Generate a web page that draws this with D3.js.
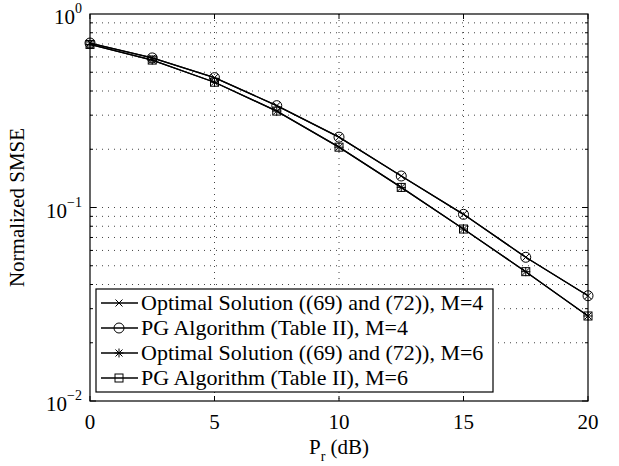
<!DOCTYPE html>
<html lang="en">
<head>
<meta charset="UTF-8">
<title>Normalized SMSE</title>
<script src="https://cdn.jsdelivr.net/npm/d3@7"></script>
<style>
    body { margin: 0; background: #fff; }
</style>
</head>
<body>
<div id="chart"></div>
<script>
// data
const prDb = [0, 2.5, 5, 7.5, 10, 12.5, 15, 17.5, 20];
const optimalM4 = [0.708, 0.593, 0.469, 0.336, 0.231, 0.1455, 0.0922, 0.0553, 0.0350];
const pgM4      = [0.708, 0.593, 0.469, 0.336, 0.231, 0.1455, 0.0922, 0.0553, 0.0350];
const optimalM6 = [0.696, 0.578, 0.444, 0.315, 0.205, 0.127, 0.0774, 0.0466, 0.0275];
const pgM6      = [0.696, 0.578, 0.444, 0.315, 0.205, 0.127, 0.0774, 0.0466, 0.0275];
const xTicks = [0, 5, 10, 15, 20];
const yDecades = [-2, -1, 0];
const legendLabels = [
    "Optimal Solution ((69) and (72)), M=4",
    "PG Algorithm (Table II), M=4",
    "Optimal Solution ((69) and (72)), M=6",
    "PG Algorithm (Table II), M=6"
];

const FONT = "Liberation Serif, DejaVu Serif";
const W = 619, H = 466;
const margin = { top: 14, right: 31, bottom: 65, left: 90 };
const width = W - margin.left - margin.right;
const height = H - margin.top - margin.bottom;

const svg = d3.select("#chart").append("svg")
    .attr("width", W).attr("height", H)
    .style("font-family", FONT);
const g = svg.append("g").attr("transform", `translate(${margin.left},${margin.top})`);

const x = d3.scaleLinear().domain([0, 20]).range([0, width]);
const y = d3.scaleLog().domain([0.01, 1]).range([height, 0]);

// grid
const minorVals = [];
[0.01, 0.1].forEach(d => { for (let k = 1; k <= 9; k++) minorVals.push(d * k); });
g.selectAll(".hgrid").data(minorVals.filter(v => v > 0.01)).enter().append("line")
    .attr("x1", 0).attr("x2", width)
    .attr("y1", d => y(d)).attr("y2", d => y(d))
    .attr("stroke", "#444").attr("stroke-width", 1).attr("stroke-dasharray", "1,5");
g.selectAll(".vgrid").data(xTicks.slice(1, -1)).enter().append("line")
    .attr("y1", 0).attr("y2", height)
    .attr("x1", d => x(d)).attr("x2", d => x(d))
    .attr("stroke", "#444").attr("stroke-width", 1).attr("stroke-dasharray", "1,5");

// box
g.append("rect").attr("width", width).attr("height", height)
    .attr("fill", "none").attr("stroke", "#000").attr("stroke-width", 1.2);

// ticks (inward, both sides)
xTicks.forEach(t => {
    g.append("line").attr("x1", x(t)).attr("x2", x(t)).attr("y1", height).attr("y2", height - 5).attr("stroke", "#000");
    g.append("line").attr("x1", x(t)).attr("x2", x(t)).attr("y1", 0).attr("y2", 5).attr("stroke", "#000");
});
minorVals.forEach(v => {
    const len = (v === 0.01 || v === 0.1) ? 6 : 3;
    [[0, len], [width, width - len]].forEach(([a, b]) => {
        g.append("line").attr("x1", a).attr("x2", b).attr("y1", y(v)).attr("y2", y(v)).attr("stroke", "#000");
    });
});

// tick labels
g.selectAll(".xl").data(xTicks).enter().append("text")
    .attr("x", d => x(d)).attr("y", height + 28)
    .attr("text-anchor", "middle").attr("font-size", 21)
    .text(d => d);
yDecades.forEach(e => {
    const t = g.append("text").attr("x", -8).attr("y", y(Math.pow(10, e)) + 10)
        .attr("text-anchor", "end").attr("font-size", 21);
    t.append("tspan").text("10");
    t.append("tspan").attr("dy", -11).attr("font-size", 14).text(e === 0 ? "0" : "\u2212" + (-e));
});

// axis labels
const xl = g.append("text").attr("x", width / 2).attr("y", height + 53)
    .attr("text-anchor", "middle").attr("font-size", 21);
xl.append("tspan").text("P");
xl.append("tspan").attr("dy", 7).attr("font-size", 14).text("r");
xl.append("tspan").attr("dy", -7).text(" (dB)");
g.append("text").attr("transform", `translate(${-66},${height / 2}) rotate(-90)`)
    .attr("text-anchor", "middle").attr("font-size", 21)
    .text("Normalized SMSE");

// series
const series = [
    { vals: optimalM4, marker: "x" },
    { vals: pgM4, marker: "o" },
    { vals: optimalM6, marker: "*" },
    { vals: pgM6, marker: "s" }
];
const line = d3.line().x(d => x(d[0])).y(d => y(d[1]));

function drawMarker(sel, type, cx, cy) {
    const m = sel.append("g").attr("transform", `translate(${cx},${cy})`)
        .attr("stroke", "#000").attr("fill", "none").attr("stroke-width", 1);
    if (type === "o") m.append("circle").attr("r", 5);
    if (type === "s") m.append("rect").attr("x", -4).attr("y", -4).attr("width", 8).attr("height", 8);
    if (type === "x" || type === "*") {
        m.append("path").attr("d", "M-3.5,-3.5L3.5,3.5M-3.5,3.5L3.5,-3.5");
    }
    if (type === "*") m.append("path").attr("d", "M0,-4.5V4.5M-4.5,0H4.5");
}

series.forEach(s => {
    const pts = prDb.map((p, i) => [p, s.vals[i]]);
    g.append("path").datum(pts).attr("d", line)
        .attr("fill", "none").attr("stroke", "#000").attr("stroke-width", 1.3);
    pts.forEach(p => drawMarker(g, s.marker, x(p[0]), y(p[1])));
});

// legend
const lg = svg.append("g").attr("transform", "translate(96,289)");
lg.append("rect").attr("width", 397).attr("height", 103)
    .attr("fill", "#fff").attr("stroke", "#000").attr("stroke-width", 1.2);
legendLabels.forEach((lab, i) => {
    const cy = 14 + i * 25;
    lg.append("line").attr("x1", 5).attr("x2", 42).attr("y1", cy).attr("y2", cy)
        .attr("stroke", "#000").attr("stroke-width", 1.3);
    drawMarker(lg, series[i].marker, 23, cy);
    lg.append("text").attr("x", 45).attr("y", cy + 7).attr("font-size", 22).text(lab);
});
</script>
</body>
</html>
